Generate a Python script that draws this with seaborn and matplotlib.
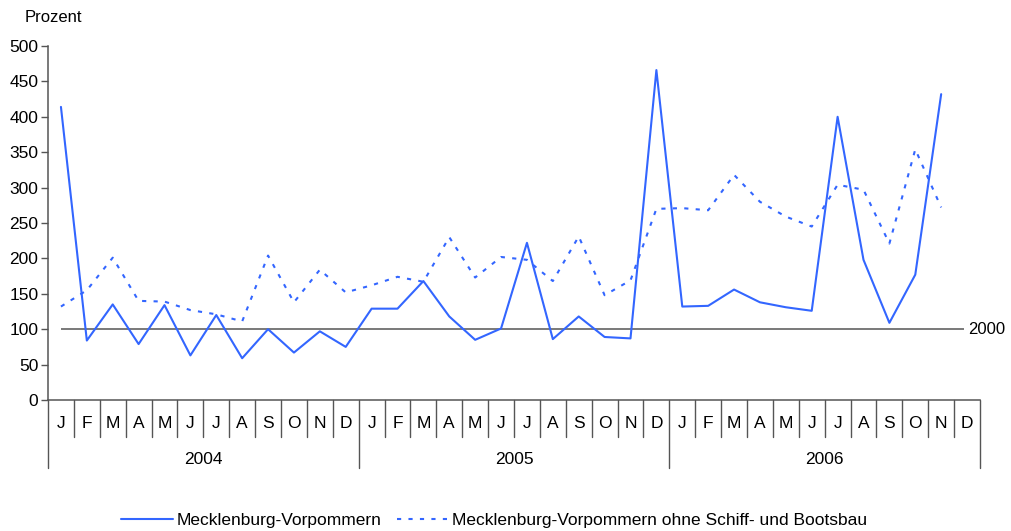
import matplotlib
matplotlib.use("Agg")
import matplotlib.pyplot as plt
import matplotlib.transforms as mtransforms
from matplotlib.lines import Line2D
import numpy as np
import pandas as pd
import seaborn as sns

months = ["J", "F", "M", "A", "M", "J", "J", "A", "S", "O", "N", "D"]
years = ["2004", "2005", "2006"]

# Index (2000 = 100), Jan 2004 .. Nov 2006
mv = [414, 84, 135, 79, 134, 63, 120, 59, 100, 67, 97, 75,
      129, 129, 168, 118, 85, 101, 222, 86, 118, 89, 87, 466,
      132, 133, 156, 138, 131, 126, 400, 198, 109, 177, 432]
mv_ohne = [132, 155, 201, 140, 139, 127, 121, 111, 204, 138, 184, 152,
           162, 174, 167, 230, 173, 202, 198, 168, 231, 148, 169, 270,
           271, 268, 318, 280, 259, 245, 304, 297, 221, 354, 272]
base_value = 100
base_label = "2000"

series_names = ["Mecklenburg-Vorpommern",
                "Mecklenburg-Vorpommern ohne Schiff- und Bootsbau"]

blue = "#3366ff"
grey = "#555555"
fs = 12.5

sns.set_theme(style="white")
plt.rcParams["font.family"] = ["Liberation Sans", "DejaVu Sans"]
plt.rcParams["text.color"] = "black"
plt.rcParams["ytick.labelcolor"] = "black"

n_cats = len(months) * len(years)
df = pd.DataFrame({
    "idx": np.arange(len(mv)),
    series_names[0]: mv,
    series_names[1]: mv_ohne,
})

fig = plt.figure(figsize=(10.11, 5.31), dpi=100)
ax = fig.add_axes([48 / 1011, 131 / 531, 932 / 1011, 354 / 531])

sns.lineplot(data=df, x="idx", y=series_names[0], ax=ax, color=blue, lw=1.5)
sns.lineplot(data=df, x="idx", y=series_names[1], ax=ax, color=blue, lw=1.5,
             dashes=False, linestyle=(0, (2, 3.5)))

ax.hlines(base_value, 0, n_cats - 1.1, color=grey, lw=1.1, zorder=1)
ax.text(n_cats - 0.95, base_value, base_label, ha="left", va="center", fontsize=12)

ax.set_xlim(-0.5, n_cats - 0.5)
ax.set_ylim(0, 500)
ax.set_yticks(np.arange(0, 501, 50))
ax.tick_params(axis="y", labelsize=fs, length=5, width=1, color=grey, left=True, pad=2)
ax.set_xticks([])
ax.set_xlabel("")
ax.set_ylabel("")
for side in ["top", "right"]:
    ax.spines[side].set_visible(False)
for side in ["left", "bottom"]:
    ax.spines[side].set_color(grey)
    ax.spines[side].set_linewidth(1.1)

# category axis: months and years with separators
trans = mtransforms.blended_transform_factory(ax.transData, ax.transAxes)
month_drop = -37 / 354
year_drop = -68 / 354
for i in range(n_cats + 1):
    bottom = year_drop if i % 12 == 0 else month_drop
    ax.plot([i - 0.5, i - 0.5], [0, bottom], transform=trans, color=grey,
            lw=1, clip_on=False)
for i in range(n_cats):
    ax.text(i, -24 / 354, months[i % 12], transform=trans, ha="center",
            va="center", fontsize=fs)
for k, y in enumerate(years):
    ax.text(k * 12 + 5.5, -60 / 354, y, transform=trans, ha="center",
            va="center", fontsize=fs)

fig.text(25 / 1011, 1 - 17 / 531, "Prozent", ha="left", va="center", fontsize=12)

handles = [Line2D([], [], color=blue, lw=1.5),
           Line2D([], [], color=blue, lw=1.5, linestyle=(0, (2, 3.5)))]
fig.legend(handles, series_names, loc="center", bbox_to_anchor=(494 / 1011, 1 - 520 / 531),
           ncol=2, frameon=False, fontsize=fs, handlelength=3.0, handletextpad=0.2,
           columnspacing=0.9)

fig.savefig("out.png", dpi=100)
